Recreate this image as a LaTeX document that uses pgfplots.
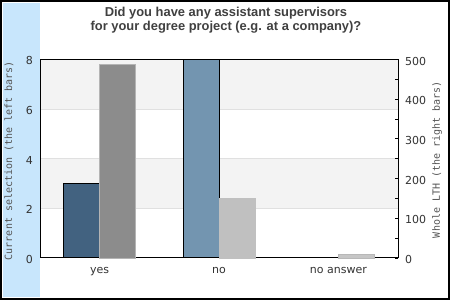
\documentclass[border=0pt]{standalone}
\usepackage{fontspec}
\setmainfont{DejaVu Sans}
\newfontfamily\titlefont{Liberation Sans}
\newfontfamily\monofont{DejaVu Sans Mono}
\usepackage{pgfplots}
\pgfplotsset{compat=1.18}
\definecolor{strip}{RGB}{200,230,252}
\definecolor{band}{RGB}{243,243,243}
\definecolor{gridc}{RGB}{224,224,224}
\definecolor{selyes}{RGB}{66,98,128}
\definecolor{selno}{RGB}{115,149,176}
\definecolor{lthyes}{RGB}{140,140,140}
\definecolor{lthyesb}{RGB}{180,180,180}
\definecolor{lthno}{RGB}{192,192,192}
\definecolor{lthna}{RGB}{198,198,198}
\definecolor{lthnab}{RGB}{184,184,184}
\definecolor{titlec}{RGB}{64,64,64}
\definecolor{tickc}{RGB}{51,51,51}
\definecolor{labc}{RGB}{85,85,85}
\begin{document}
\begin{tikzpicture}[x=1pt,y=1pt]
\fill[white] (0,0) rectangle (450,300);
\fill[strip] (3,3.3) rectangle (40,297);
\draw[line width=1.7pt] (0.85,0.85) rectangle (449.15,299.15);
\node[font=\titlefont\bfseries\fontsize{12.9}{15}\selectfont, text=titlec, anchor=base, inner sep=0pt] at (226,283) {Did you have any assistant supervisors};
\node[font=\titlefont\bfseries\fontsize{12.9}{15}\selectfont, text=titlec, anchor=base, inner sep=0pt] at (226,269) {for your degree project (e.g. at a company)?};
\begin{axis}[
  at={(40pt,42pt)}, anchor=south west,
  scale only axis, width=358pt, height=198.5pt,
  xmin=-0.5, xmax=2.5, ymin=0, ymax=8,
  axis on top,
  xtick={0,1,2}, xticklabels={yes,no,no answer},
  ytick={0,2,4,6,8},
  major tick length=0pt,
  axis line style={black, line width=1pt},
  /pgf/number format/assume math mode=true,
  tick label style={font=\fontsize{11}{13}\selectfont, text=tickc, inner sep=0pt},
  xticklabel style={anchor=base, yshift=-16pt},
  yticklabel style={anchor=base east, xshift=-7pt, yshift=-5.5pt},
  ylabel={Current selection (the left bars)},
  every axis y label/.style={at={(rel axis cs:0,0.5)}, xshift=-31pt, yshift=-2pt, rotate=90, anchor=center, font=\monofont\fontsize{10}{12}\selectfont, text=labc},
  ybar, bar width=36pt, bar shift=-18pt,
]
\fill[band] (axis cs:-0.5,2) rectangle (axis cs:2.5,4);
\fill[band] (axis cs:-0.5,6) rectangle (axis cs:2.5,8);
\draw[gridc, line width=1pt] (axis cs:-0.5,2) -- (axis cs:2.5,2);
\draw[gridc, line width=1pt] (axis cs:-0.5,4) -- (axis cs:2.5,4);
\draw[gridc, line width=1pt] (axis cs:-0.5,6) -- (axis cs:2.5,6);
\addplot[fill=selyes, draw=black, line width=1pt] coordinates {(0,3)};
\addplot[fill=selno, draw=black, line width=1pt] coordinates {(1,8)};
\addplot[fill=none, draw=none] coordinates {(2,0)};
\end{axis}
\begin{axis}[
  at={(40pt,42pt)}, anchor=south west,
  scale only axis, width=358pt, height=198.5pt,
  xmin=-0.5, xmax=2.5, ymin=0, ymax=500,
  axis on top,
  axis x line=none, axis y line*=right,
  ytick={0,100,200,300,400,500},
  minor ytick={50,150,250,350,450},
  tick align=inside,
  major tick length=3.5pt, minor tick length=3.5pt,
  tick style={black, line width=1pt},
  axis line style={black, line width=1pt},
  /pgf/number format/assume math mode=true,
  tick label style={font=\fontsize{11}{13}\selectfont, text=tickc, inner sep=0pt},
  yticklabel style={anchor=base west, xshift=7pt, yshift=-5.5pt},
  ylabel={Whole LTH (the right bars)},
  every axis y label/.style={at={(rel axis cs:1,0.5)}, xshift=39pt, yshift=-1pt, rotate=90, anchor=center, font=\monofont\fontsize{10}{12}\selectfont, text=labc},
  ybar, bar width=36pt, bar shift=18pt,
]
\addplot[fill=lthyes, draw=lthyesb, line width=1pt] coordinates {(0,488)};
\addplot[fill=lthno, draw=lthno, line width=1pt] coordinates {(1,149)};
\addplot[fill=lthna, draw=lthnab, line width=1pt] coordinates {(2,10)};
\end{axis}
\end{tikzpicture}
\end{document}
